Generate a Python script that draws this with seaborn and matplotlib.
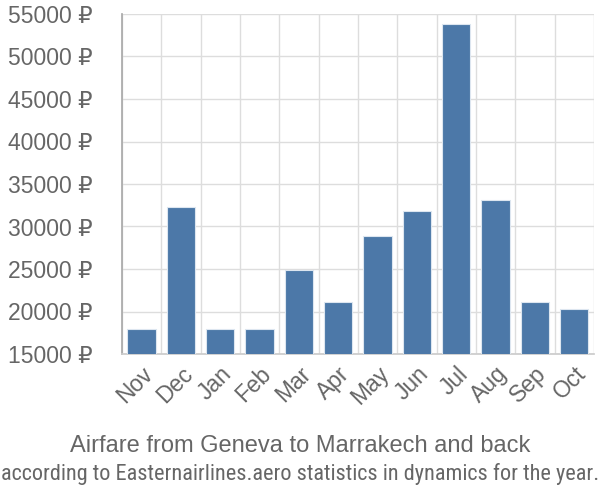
import matplotlib
matplotlib.use("Agg")
import matplotlib.pyplot as plt
import seaborn as sns
import pandas as pd
import numpy as np

months = ["Nov", "Dec", "Jan", "Feb", "Mar", "Apr", "May", "Jun", "Jul", "Aug", "Sep", "Oct"]
prices = [17900, 32350, 17900, 17900, 24900, 21150, 28850, 31850, 53800, 33100, 21150, 20250]
y_ticks = [15000, 20000, 25000, 30000, 35000, 40000, 45000, 50000, 55000]
title = "Airfare from Geneva to Marrakech and back"
subtitle = "according to Easternairlines.aero statistics in dynamics for the year."

sns.set_theme(style="white")
plt.rcParams["font.family"] = ["Liberation Sans", "DejaVu Sans"]

df = pd.DataFrame({"month": months, "price": prices})

fig = plt.figure(figsize=(6, 5), dpi=100)
ax = fig.add_axes([0.203, 0.292, 0.787, 0.68])
sns.barplot(data=df, x="month", y="price", color="#4c78a8", saturation=1,
            width=0.72, edgecolor="#dde6f0", linewidth=0.8, ax=ax, zorder=3)

ax.set_ylim(15000, 55000)
ax.set_xlim(-0.5, len(months) - 0.5)
ax.set_yticks(y_ticks)
ax.set_yticklabels([f"{v} ₽" for v in y_ticks], fontsize=16.5, color="#666666")
ax.set_xticks(range(len(months)))
ax.set_xticklabels(months, rotation=45, ha="right", rotation_mode="anchor",
                   fontsize=16.5, color="#666666")
ax.set_xticks(np.arange(-0.5, len(months)), minor=True)
ax.tick_params(axis="x", which="major", length=0, pad=6)
ax.tick_params(axis="x", which="minor", length=10, color="#dddddd", width=1)
ax.tick_params(axis="y", which="major", length=20, color="#dddddd", width=1, pad=1)
ax.grid(axis="y", which="major", color="#dddddd", linewidth=1, zorder=0)
ax.grid(axis="x", which="minor", color="#dddddd", linewidth=1, zorder=0)
ax.set_axisbelow(True)
for s in ["top", "right"]:
    ax.spines[s].set_visible(False)
ax.spines["bottom"].set_color("#cccccc")
ax.spines["left"].set_color("#aaaaaa")
ax.set_xlabel("")
ax.set_ylabel("")

fig.text(0.5, 0.108, title, ha="center", va="center", fontsize=17, color="#666666")
fig.text(0.5, 0.052, subtitle, ha="center", va="center", fontsize=16, color="#666666",
         family=["Roboto Condensed", "Liberation Sans", "DejaVu Sans"])

fig.savefig("out.png", dpi=100)
